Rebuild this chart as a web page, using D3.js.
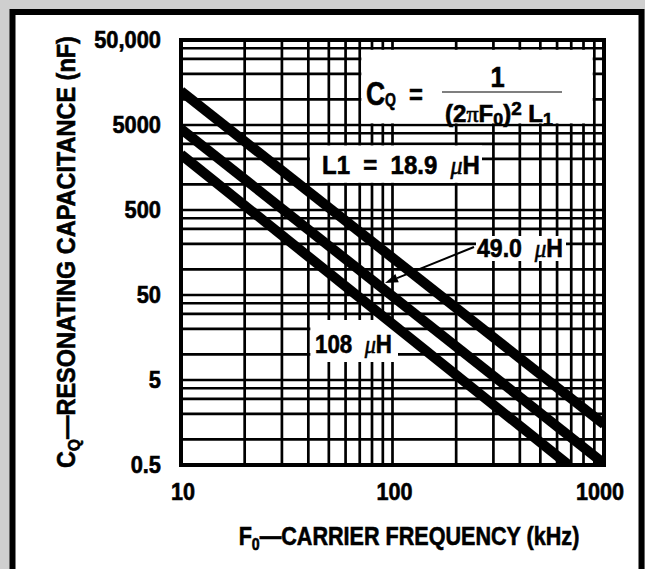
<!DOCTYPE html>
<html><head><meta charset="utf-8">
<script src="https://cdn.jsdelivr.net/npm/d3@7"></script>
<style>html,body{margin:0;padding:0;background:#fff;} svg{display:block;}</style>
</head><body>
<svg id="chart" width="645" height="569"></svg>
<script>
// ---------------- data ----------------
const seriesNames = ["18.9 µH", "49.0 µH", "108 µH"];
const freq189 = [10, 1000];          // kHz
const cap189  = [12500, 1.5];        // nF
const freq490 = [10, 1000];
const cap490  = [4500, 0.52];
const freq108 = [10, 680];
const cap108  = [2250, 0.5];
const xTickValues = [10, 100, 1000];
const xTickLabels = ["10", "100", "1000"];
const yTickValues = [0.5, 5, 50, 500, 5000, 50000];
const yTickLabels = ["0.5", "5", "50", "500", "5000", "50,000"];

// ---------------- layout ----------------
const W = 645, H = 569;
const P = {left: 181, right: 604, top: 40, bottom: 465};
const FONT = "'Liberation Sans', Arial, Helvetica, sans-serif";
const SERIF = "'Liberation Serif', 'Times New Roman', serif";

const svg = d3.select("#chart");
const x = d3.scaleLog().domain([10, 1000]).range([P.left, P.right]);
const y = d3.scaleLog().domain([0.5, 50000]).range([P.bottom, P.top]);

// page background and frame
svg.append("rect").attr("width", W).attr("height", H).attr("fill", "#cfcfcf");
svg.append("rect").attr("x", 12.5).attr("y", 12).attr("width", 629).attr("height", H + 20)
  .attr("fill", "#fff").attr("stroke", "#000").attr("stroke-width", 6);

// grid
const xGrid = [];
[10, 100].forEach(b => { for (let k = 1; k <= 9; k++) xGrid.push(b * k); });
xGrid.push(1000);
const yGrid = [];
for (let e = -1; e <= 4; e++) [1, 2, 3, 4, 5].forEach(k => {
  const v = k * Math.pow(10, e);
  if (v >= 0.4999 && v <= 50000.01) yGrid.push(v);
});
const grid = svg.append("g").attr("stroke", "#000").attr("stroke-width", 2.7);
grid.selectAll("line.v").data(xGrid).join("line").attr("class", "v")
  .attr("x1", d => x(d)).attr("x2", d => x(d)).attr("y1", P.top).attr("y2", P.bottom);
grid.selectAll("line.h").data(yGrid).join("line").attr("class", "h")
  .attr("y1", d => y(d)).attr("y2", d => y(d)).attr("x1", P.left).attr("x2", P.right);

// white label areas cut out of the grid
const masks = [
  {x0: x(70) + 1.6, x1: x(900) - 1.6, y0: y(40000) + 1.6, y1: y(5000) - 1.6},
  {x0: x(40) + 1.6, x1: 482, y0: y(3000) + 1.6, y1: y(1000) - 1.6},
  {x0: 476, x1: 566, y0: 236, y1: 261},
  {x0: x(40) + 2, x1: 398, y0: 320, y1: 362}
];
svg.append("g").selectAll("rect").data(masks).join("rect")
  .attr("x", d => d.x0).attr("y", d => d.y0)
  .attr("width", d => d.x1 - d.x0).attr("height", d => d.y1 - d.y0)
  .attr("fill", "#fff");

// data lines
svg.append("clipPath").attr("id", "plotclip").append("rect")
  .attr("x", P.left).attr("y", P.top).attr("width", P.right - P.left).attr("height", P.bottom - P.top);
const series = [
  {name: seriesNames[0], f: freq189, c: cap189},
  {name: seriesNames[1], f: freq490, c: cap490},
  {name: seriesNames[2], f: freq108, c: cap108}
];
const line = d3.line().x(d => x(d[0])).y(d => y(d[1]));
svg.append("g").attr("clip-path", "url(#plotclip)").selectAll("path").data(series).join("path")
  .attr("d", s => line(s.f.map((f, i) => [f, s.c[i]])))
  .attr("fill", "none").attr("stroke", "#000").attr("stroke-width", 10).attr("stroke-linecap", "butt");

// plot border
svg.append("rect").attr("x", P.left).attr("y", P.top)
  .attr("width", P.right - P.left).attr("height", P.bottom - P.top)
  .attr("fill", "none").attr("stroke", "#000").attr("stroke-width", 4);

// ---------------- text helper ----------------
function addText(parts, opt) {
  const g = svg.append("g");
  const t = g.append("text").attr("font-family", FONT).attr("font-weight", "bold")
    .attr("font-size", opt.size).attr("text-anchor", opt.anchor || "start").attr("fill", "#000")
    .attr("stroke", "#000").attr("stroke-width", opt.stroke == null ? 0.6 : opt.stroke);
  let shift = 0;
  parts.forEach(p => {
    const s = t.append("tspan").text(p.t);
    const want = p.dy || 0;
    if (want - shift !== 0) s.attr("dy", want - shift);
    shift = want;
    if (p.size) s.attr("font-size", p.size);
    if (p.italic) s.attr("font-style", "italic");
    if (p.family) s.attr("font-family", p.family);
    if (p.weight) s.attr("font-weight", p.weight);
  });
  let sx = opt.sx || 1;
  if (opt.width) { const bb = t.node().getBBox(); sx = opt.width / bb.width; }
  g.attr("transform", `translate(${opt.x},${opt.y}) rotate(${opt.rotate || 0}) scale(${sx},1)`);
  return g;
}
const NB = "\u00A0";

// y tick labels
yTickValues.forEach((v, i) => {
  addText([{t: yTickLabels[i]}], {x: 161, y: y(v) + 8, anchor: "end", size: 23, sx: 0.95});
});
// x tick labels
xTickValues.forEach((v, i) => {
  const nudge = i === xTickValues.length - 1 ? -4 : 2;
  addText([{t: xTickLabels[i]}], {x: x(v) + nudge, y: 500, anchor: "middle", size: 24, sx: 0.9});
});

// axis titles
addText([{t: "F"}, {t: "0", dy: 5, size: 17}, {t: "\u2014CARRIER FREQUENCY (kHz)", dy: 0}],
  {x: 409, y: 545, anchor: "middle", size: 26, width: 341});
addText([{t: "C"}, {t: "Q", dy: 5, size: 17}, {t: "\u2014RESONATING CAPACITANCE (nF)", dy: 0}],
  {x: 75, y: 252, anchor: "middle", size: 26, width: 432, rotate: -90});

// formula
addText([{t: "C"}, {t: "Q", dy: 1, size: 18}], {x: 366, y: 105, anchor: "start", size: 34, width: 30});
addText([{t: "="}], {x: 416, y: 104, anchor: "middle", size: 28, sx: 0.85});
addText([{t: "1"}], {x: 497.5, y: 87, anchor: "middle", size: 30, sx: 0.85});
svg.append("line").attr("x1", 442).attr("x2", 562).attr("y1", 92).attr("y2", 92)
  .attr("stroke", "#555").attr("stroke-width", 1.6);
addText([
  {t: "(2"}, {t: "\u03C0", family: SERIF, weight: "normal"}, {t: "F"},
  {t: "0", dy: 3, size: 17}, {t: ")", dy: 0}, {t: "2", dy: -7, size: 18},
  {t: NB + "L", dy: 0}, {t: "1", dy: 3, size: 17}
], {x: 499, y: 122, anchor: "middle", size: 23, width: 108});

// series labels
const MU = {t: "\u03BC", family: SERIF, italic: true, weight: "normal"};
addText([{t: "L1" + NB + NB + "=" + NB + NB + "18.9" + NB + NB}, MU, {t: "H"}],
  {x: 322, y: 174, anchor: "start", size: 26, width: 158});
addText([{t: "49.0" + NB + NB}, MU, {t: "H"}],
  {x: 477, y: 257, anchor: "start", size: 26, width: 86});
addText([{t: "108" + NB + NB}, MU, {t: "H"}],
  {x: 315, y: 353, anchor: "start", size: 26, width: 77});

// arrow from the 49.0 µH label to its line
const tail = [474, 247], tip = [385, 283];
const dx = tip[0] - tail[0], dy = tip[1] - tail[1], len = Math.hypot(dx, dy);
const ux = dx / len, uy = dy / len, nx = -uy, ny = ux;
const headL = 13, headW = 4.5;
const base = [tip[0] - ux * headL, tip[1] - uy * headL];
svg.append("line").attr("x1", tail[0]).attr("y1", tail[1]).attr("x2", base[0]).attr("y2", base[1])
  .attr("stroke", "#000").attr("stroke-width", 2);
svg.append("polygon")
  .attr("points", [tip, [base[0] + nx * headW, base[1] + ny * headW], [base[0] - nx * headW, base[1] - ny * headW]]
    .map(p => p.join(",")).join(" "))
  .attr("fill", "#000");
</script>
</body></html>
